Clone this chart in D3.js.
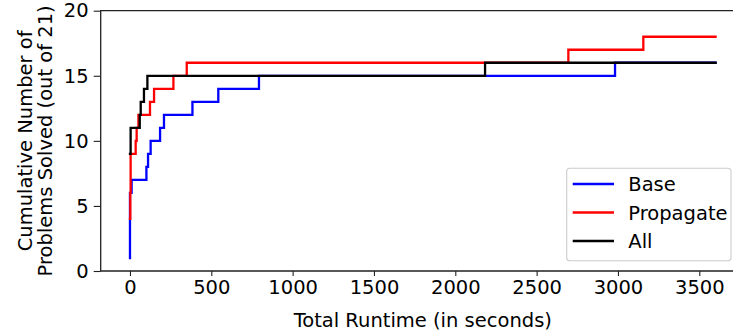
<!DOCTYPE html>
<html>
<head>
<meta charset="utf-8">
<script src="https://cdn.jsdelivr.net/npm/d3@7"></script>
<style>
  html, body { margin: 0; padding: 0; background: #fff; }
  svg { display: block; font-family: "DejaVu Sans", sans-serif; }
</style>
</head>
<body>
<svg id="chart" width="733" height="333"></svg>
<script>
// ---- data ----
const seriesNames = ["Base", "Propagate", "All"];
const seriesColors = ["#0000ff", "#ff0000", "#000000"];

const baseTimes  = [0, 0, 10, 101, 111, 127, 185, 209, 384, 543, 793, 2982, 3600];
const baseCounts = [1, 6, 7, 8, 9, 10, 11, 12, 13, 14, 15, 16, 16];

const propTimes  = [0, 2, 4, 35, 41, 52, 123, 148, 267, 349, 2695, 3156, 3600];
const propCounts = [4, 6, 9, 10, 11, 12, 13, 14, 15, 16, 17, 18, 18];

const allTimes  = [0, 4, 60, 66, 86, 107, 2183, 3600];
const allCounts = [9, 11, 12, 13, 14, 15, 16, 16];

const xTicks = [0, 500, 1000, 1500, 2000, 2500, 3000, 3500];
const yTicks = [0, 5, 10, 15, 20];

// ---- layout ----
const svg = d3.select("#chart");
const mLeft = 100.7, mTop = 10.7, mBottom = 271;
const x = d3.scaleLinear().domain([-180, 3780]).range([mLeft, mLeft + (3780 + 180) * 0.16266]);
const y = d3.scaleLinear().domain([0, 20]).range([mBottom, mTop]);

const fontSize = 19.5;

// series
const series = [
  {name: seriesNames[0], color: seriesColors[0], pts: baseTimes.map((t, i) => [t, baseCounts[i]])},
  {name: seriesNames[1], color: seriesColors[1], pts: propTimes.map((t, i) => [t, propCounts[i]])},
  {name: seriesNames[2], color: seriesColors[2], pts: allTimes.map((t, i) => [t, allCounts[i]])}
];

const line = d3.line().x(d => x(d[0])).y(d => y(d[1])).curve(d3.curveStepAfter);

svg.append("g").selectAll("path").data(series).enter().append("path")
  .attr("d", d => line(d.pts))
  .attr("fill", "none")
  .attr("stroke", d => d.color)
  .attr("stroke-width", 2.3)
  .attr("stroke-linejoin", "miter")
  .attr("stroke-linecap", "square");

// axes
const xAxis = svg.append("g").attr("transform", `translate(0,${mBottom})`)
  .call(d3.axisBottom(x).tickValues(xTicks).tickSize(5).tickPadding(4).tickFormat(d3.format("d")));
const yAxis = svg.append("g").attr("transform", `translate(${mLeft},0)`)
  .call(d3.axisLeft(y).tickValues(yTicks).tickSize(7).tickPadding(5).tickFormat(d3.format("d")));
[xAxis, yAxis].forEach(a => {
  a.select(".domain").remove();
  a.selectAll("line").attr("stroke", "#222").attr("stroke-width", 1.1);
  a.selectAll("text").attr("font-size", fontSize).attr("font-family", "DejaVu Sans").attr("fill", "#000");
});

// spines (left, top, bottom; right is beyond the picture)
const rightEdge = x(3780);
svg.append("path")
  .attr("d", `M${rightEdge},${mTop}H${mLeft}V${mBottom}H${rightEdge}`)
  .attr("fill", "none").attr("stroke", "#222").attr("stroke-width", 1.3);

// labels
svg.append("text").attr("x", (mLeft + rightEdge) / 2).attr("y", 327)
  .attr("text-anchor", "middle").attr("font-size", fontSize)
  .text("Total Runtime (in seconds)");

const yl = svg.append("text")
  .attr("transform", `translate(0,${(mTop + mBottom) / 2}) rotate(-90)`)
  .attr("text-anchor", "middle").attr("font-size", fontSize);
yl.append("tspan").attr("x", 0).attr("y", 32).text("Cumulative Number of");
yl.append("tspan").attr("x", 0).attr("y", 52).text("Problems Solved (out of 21)");

// legend
const lg = svg.append("g");
lg.append("rect").attr("x", 566.7).attr("y", 168.3).attr("width", 164.3).attr("height", 92.4)
  .attr("rx", 3).attr("fill", "#fff").attr("fill-opacity", 0.8)
  .attr("stroke", "#cccccc").attr("stroke-width", 1.1);
const rowY = [184, 212.5, 241];
series.forEach((s, i) => {
  lg.append("line").attr("x1", 572.7).attr("x2", 614).attr("y1", rowY[i]).attr("y2", rowY[i])
    .attr("stroke", s.color).attr("stroke-width", 2.3);
  lg.append("text").attr("x", 628.3).attr("y", rowY[i] + 7)
    .attr("font-size", fontSize).text(s.name);
});
</script>
</body>
</html>
